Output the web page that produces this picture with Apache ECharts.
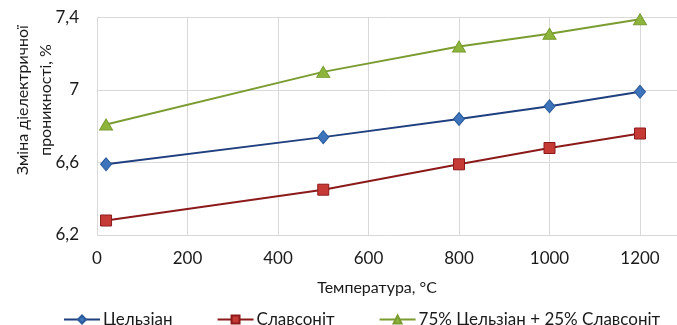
<!DOCTYPE html>
<html><head><meta charset="utf-8">
<script src="https://cdn.jsdelivr.net/npm/echarts@6/dist/echarts.min.js"></script>
<style>html,body{margin:0;padding:0;background:#fff}#c{width:677px;height:325px}</style>
</head><body><div id="c"></div>
<script>
const temps = [20, 500, 800, 1000, 1200];
const celsian = [6.59, 6.74, 6.84, 6.91, 6.99];
const slavsonit = [6.28, 6.45, 6.59, 6.68, 6.76];
const mix = [6.81, 7.10, 7.24, 7.31, 7.39];
const seriesNames = ['Цельзіан', 'Славсоніт', '75% Цельзіан + 25% Славсоніт'];
const xTicks = [0, 200, 400, 600, 800, 1000, 1200];
const yTicks = [6.2, 6.6, 7.0, 7.4];
const xTitle = 'Температура, °C';
const yTitle = 'Зміна діелектричної\nпроникності, %';

const FONT = 'Lato';
const TXT = '#1a1a1a';
const chart = echarts.init(document.getElementById('c'), null, {renderer: 'canvas'});
function pts(arr){ return temps.map((t,i)=>[t, arr[i]]); }
chart.setOption({
  animation: false,
  textStyle: {fontFamily: FONT},
  grid: {left: 97, top: 17.5, width: 633.5, height: 217.5, containLabel: false, outerBoundsMode: 'none'},
  title: {text: xTitle, left: 372, top: 275, textAlign: 'center',
    textStyle: {fontFamily: FONT, fontSize: 16, fontWeight: 'normal', color: TXT}},
  graphic: [{type: 'text', x: 34, y: 100, rotation: Math.PI/2,
    style: {text: yTitle, fontFamily: FONT, fontSize: 16, fill: TXT, align: 'center', verticalAlign: 'middle', lineHeight: 23}}],
  legend: {left: 58, top: 306, itemWidth: 36, itemHeight: 10, itemGap: 44,
    textStyle: {fontFamily: FONT, fontSize: 17, color: TXT, padding: [0,0,0,-2]},
    data: seriesNames},
  xAxis: {type: 'value', min: 0, max: 1400, interval: 200,
    axisLine: {show: false}, axisTick: {show: false},
    splitLine: {show: true, lineStyle: {color: '#d9d9d9', width: 1}},
    axisLabel: {fontFamily: FONT, fontSize: 17, color: TXT, margin: 15,
      formatter: v => xTicks.includes(v) ? String(v) : ''}},
  yAxis: {type: 'value', min: 6.2, max: 7.4, interval: 0.4,
    axisLine: {show: true, lineStyle: {color: '#d9d9d9'}}, axisTick: {show: false},
    splitLine: {show: true, lineStyle: {color: '#d9d9d9', width: 1}},
    axisLabel: {fontFamily: FONT, fontSize: 17, color: TXT, margin: 18,
      formatter: v => { const m = yTicks.find(t => Math.abs(t - v) < 1e-6); return m === undefined ? '' : String(+m.toFixed(1)).replace('.', ','); }}},
  series: [
    {name: seriesNames[0], type: 'line', data: pts(celsian), symbol: 'diamond', symbolSize: [11, 13],
      lineStyle: {color: '#1f3f7f', width: 2}, itemStyle: {color: '#3d74bb', borderColor: '#2a5a9a', borderWidth: 1}},
    {name: seriesNames[1], type: 'line', data: pts(slavsonit), symbol: 'rect', symbolSize: 11,
      lineStyle: {color: '#8c1a1a', width: 2}, itemStyle: {color: '#c63a36', borderColor: '#8c1a1a', borderWidth: 1}},
    {name: seriesNames[2], type: 'line', data: pts(mix), symbol: 'triangle', symbolSize: [13, 11],
      lineStyle: {color: '#7a9c30', width: 2}, itemStyle: {color: '#8db53c', borderColor: '#7a9c30', borderWidth: 1}}
  ]
});
</script></body></html>
